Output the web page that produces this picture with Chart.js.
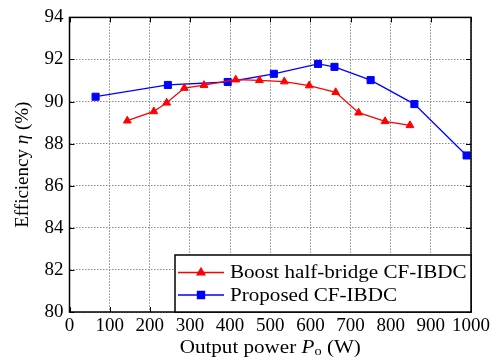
<!DOCTYPE html>
<html>
<head>
<meta charset="utf-8">
<title>Efficiency vs output power</title>
<script src="https://cdn.jsdelivr.net/npm/chart.js@4/dist/chart.umd.min.js"></script>
<style>
    html, body { margin: 0; padding: 0; background: #fff; }
    #wrap { width: 503px; height: 362px; }
</style>
</head>
<body>
<div id="wrap"><canvas id="effChart" width="503" height="362"></canvas></div>
<script>
// measured efficiency curves
const boostPower = [144, 210, 242, 286, 335, 414, 473, 535, 597, 663, 720, 786, 848];
const boostEff   = [89.09, 89.53, 89.94, 90.64, 90.78, 91.04, 91.01, 90.95, 90.76, 90.44, 89.47, 89.06, 88.87];

const proposedPower = [65, 245, 394, 509, 619, 660, 750, 859, 989];
const proposedEff   = [90.23, 90.79, 90.93, 91.32, 91.79, 91.65, 91.02, 89.88, 87.44];

const seriesNames = ["Boost half-bridge CF-IBDC", "Proposed CF-IBDC"];

const FONT = "Liberation Serif, Times New Roman, serif";
const STRETCH = 1.11;   // serif text is drawn a little wide

function toPoints(xs, ys){
    return xs.map((x, i) => ({ x: x, y: ys[i] }));
}

// draws runs of text with mixed fonts, starting at x (already scaled space)
function drawRuns(ctx, parts, x, y){
    parts.forEach(p => {
        ctx.font = p.f;
        ctx.fillText(p.t, x, y + (p.dy || 0));
        x += ctx.measureText(p.t).width;
    });
}

function runsWidth(ctx, parts){
    let w = 0;
    parts.forEach(p => { ctx.font = p.f; w += ctx.measureText(p.t).width; });
    return w;
}

// frame, inward tick marks, axis titles and boxed legend
const decorations = {
    id: "decorations",
    afterDatasetsDraw(chart){
        const ctx = chart.ctx;
        const a = chart.chartArea;
        const xs = chart.scales.x;
        const ys = chart.scales.y;

        ctx.save();
        ctx.strokeStyle = "#000";
        ctx.lineWidth = 1;
        xs.ticks.forEach(t => {
            const px = Math.round(xs.getPixelForValue(t.value)) + 0.5;
            ctx.beginPath();
            ctx.moveTo(px, a.bottom); ctx.lineTo(px, a.bottom - 5);
            ctx.moveTo(px, a.top); ctx.lineTo(px, a.top + 5);
            ctx.stroke();
        });
        ys.ticks.forEach(t => {
            const py = Math.round(ys.getPixelForValue(t.value)) + 0.5;
            ctx.beginPath();
            ctx.moveTo(a.left, py); ctx.lineTo(a.left + 5, py);
            ctx.moveTo(a.right, py); ctx.lineTo(a.right - 5, py);
            ctx.stroke();
        });
        ctx.lineWidth = 1.5;
        ctx.strokeRect(a.left, a.top, a.right - a.left, a.bottom - a.top);

        // legend box in the lower right corner
        const box = { left: 175, top: 255, right: a.right, bottom: a.bottom };
        ctx.fillStyle = "#fff";
        ctx.fillRect(box.left, box.top, box.right - box.left, box.bottom - box.top);
        ctx.strokeRect(box.left, box.top, box.right - box.left, box.bottom - box.top);

        const rows = [272.5, 295];
        chart.data.datasets.forEach((ds, i) => {
            const y = rows[i];
            ctx.strokeStyle = ds.borderColor;
            ctx.lineWidth = ds.borderWidth;
            ctx.beginPath();
            ctx.moveTo(178, y); ctx.lineTo(224, y);
            ctx.stroke();
            ctx.fillStyle = ds.pointBackgroundColor;
            ctx.strokeStyle = ds.pointBorderColor;
            Chart.helpers.drawPoint(ctx, {
                pointStyle: ds.pointStyle,
                radius: ds.pointRadius,
                borderWidth: 1,
                rotation: 0
            }, 201, y);

            ctx.save();
            ctx.fillStyle = "#000";
            ctx.textAlign = "left";
            ctx.textBaseline = "middle";
            ctx.translate(230, y + 1);
            ctx.scale(STRETCH, 1);
            drawRuns(ctx, [{ t: ds.label, f: "19px " + FONT }], 0, 0);
            ctx.restore();
        });
        ctx.restore();
    },
    afterDraw(chart){
        const ctx = chart.ctx;
        const a = chart.chartArea;
        ctx.save();
        ctx.fillStyle = "#000";
        ctx.textBaseline = "middle";
        ctx.textAlign = "left";

        // y title, rotated, with italic eta
        const yParts = [
            { t: "Efficiency ", f: "19px " + FONT },
            { t: "\u03B7", f: "italic 19px " + FONT },
            { t: " (%)", f: "19px " + FONT }
        ];
        ctx.translate(23, (a.top + a.bottom) / 2);
        ctx.rotate(-Math.PI / 2);
        drawRuns(ctx, yParts, -runsWidth(ctx, yParts) / 2, 0);
        ctx.setTransform(1, 0, 0, 1, 0, 0);

        // x title with italic P and subscript o
        const xParts = [
            { t: "Output power ", f: "19px " + FONT },
            { t: "P", f: "italic 19px " + FONT },
            { t: "o", f: "13px " + FONT, dy: 4 },
            { t: " (W)", f: "19px " + FONT }
        ];
        ctx.translate((a.left + a.right) / 2, 348);
        ctx.scale(STRETCH, 1);
        drawRuns(ctx, xParts, -runsWidth(ctx, xParts) / 2, 0);
        ctx.restore();
    }
};

new Chart(document.getElementById("effChart"), {
    type: "line",
    data: {
        datasets: [
            {
                label: seriesNames[0],
                data: toPoints(boostPower, boostEff),
                borderColor: "#ff0000",
                backgroundColor: "#ff0000",
                pointBackgroundColor: "#ff0000",
                pointBorderColor: "#ff0000",
                pointStyle: "triangle",
                pointRadius: 4.5,
                pointBorderWidth: 1,
                borderWidth: 1.3,
                tension: 0
            },
            {
                label: seriesNames[1],
                data: toPoints(proposedPower, proposedEff),
                borderColor: "#0000ff",
                backgroundColor: "#0000ff",
                pointBackgroundColor: "#0000ff",
                pointBorderColor: "#0000ff",
                pointStyle: "rect",
                pointRadius: 5,
                pointBorderWidth: 1,
                borderWidth: 1.3,
                tension: 0
            }
        ]
    },
    options: {
        responsive: false,
        animation: false,
        devicePixelRatio: 1,
        layout: { padding: { top: 13, right: 32, left: 0, bottom: 0 } },
        plugins: {
            legend: { display: false },
            tooltip: { enabled: false }
        },
        scales: {
            x: {
                type: "linear",
                min: 0,
                max: 1000,
                ticks: {
                    stepSize: 100,
                    autoSkip: false,
                    color: "#000",
                    padding: 3,
                    maxRotation: 0,
                    font: { family: FONT, size: 19 },
                    callback: v => String(v)
                },
                grid: { color: "#8a8a8a", lineWidth: 1, drawTicks: false },
                border: { display: false, dash: [1.5, 1.5] },
                afterFit: scale => { scale.height = 50; }
            },
            y: {
                min: 80,
                max: 94,
                ticks: {
                    stepSize: 2,
                    color: "#000",
                    padding: 6,
                    font: { family: FONT, size: 19 },
                    callback: v => String(v)
                },
                grid: { color: "#8a8a8a", lineWidth: 1, drawTicks: false },
                border: { display: false, dash: [1.5, 1.5] },
                afterFit: scale => { scale.width = 69.5; }
            }
        }
    },
    plugins: [decorations]
});
</script>
</body>
</html>
